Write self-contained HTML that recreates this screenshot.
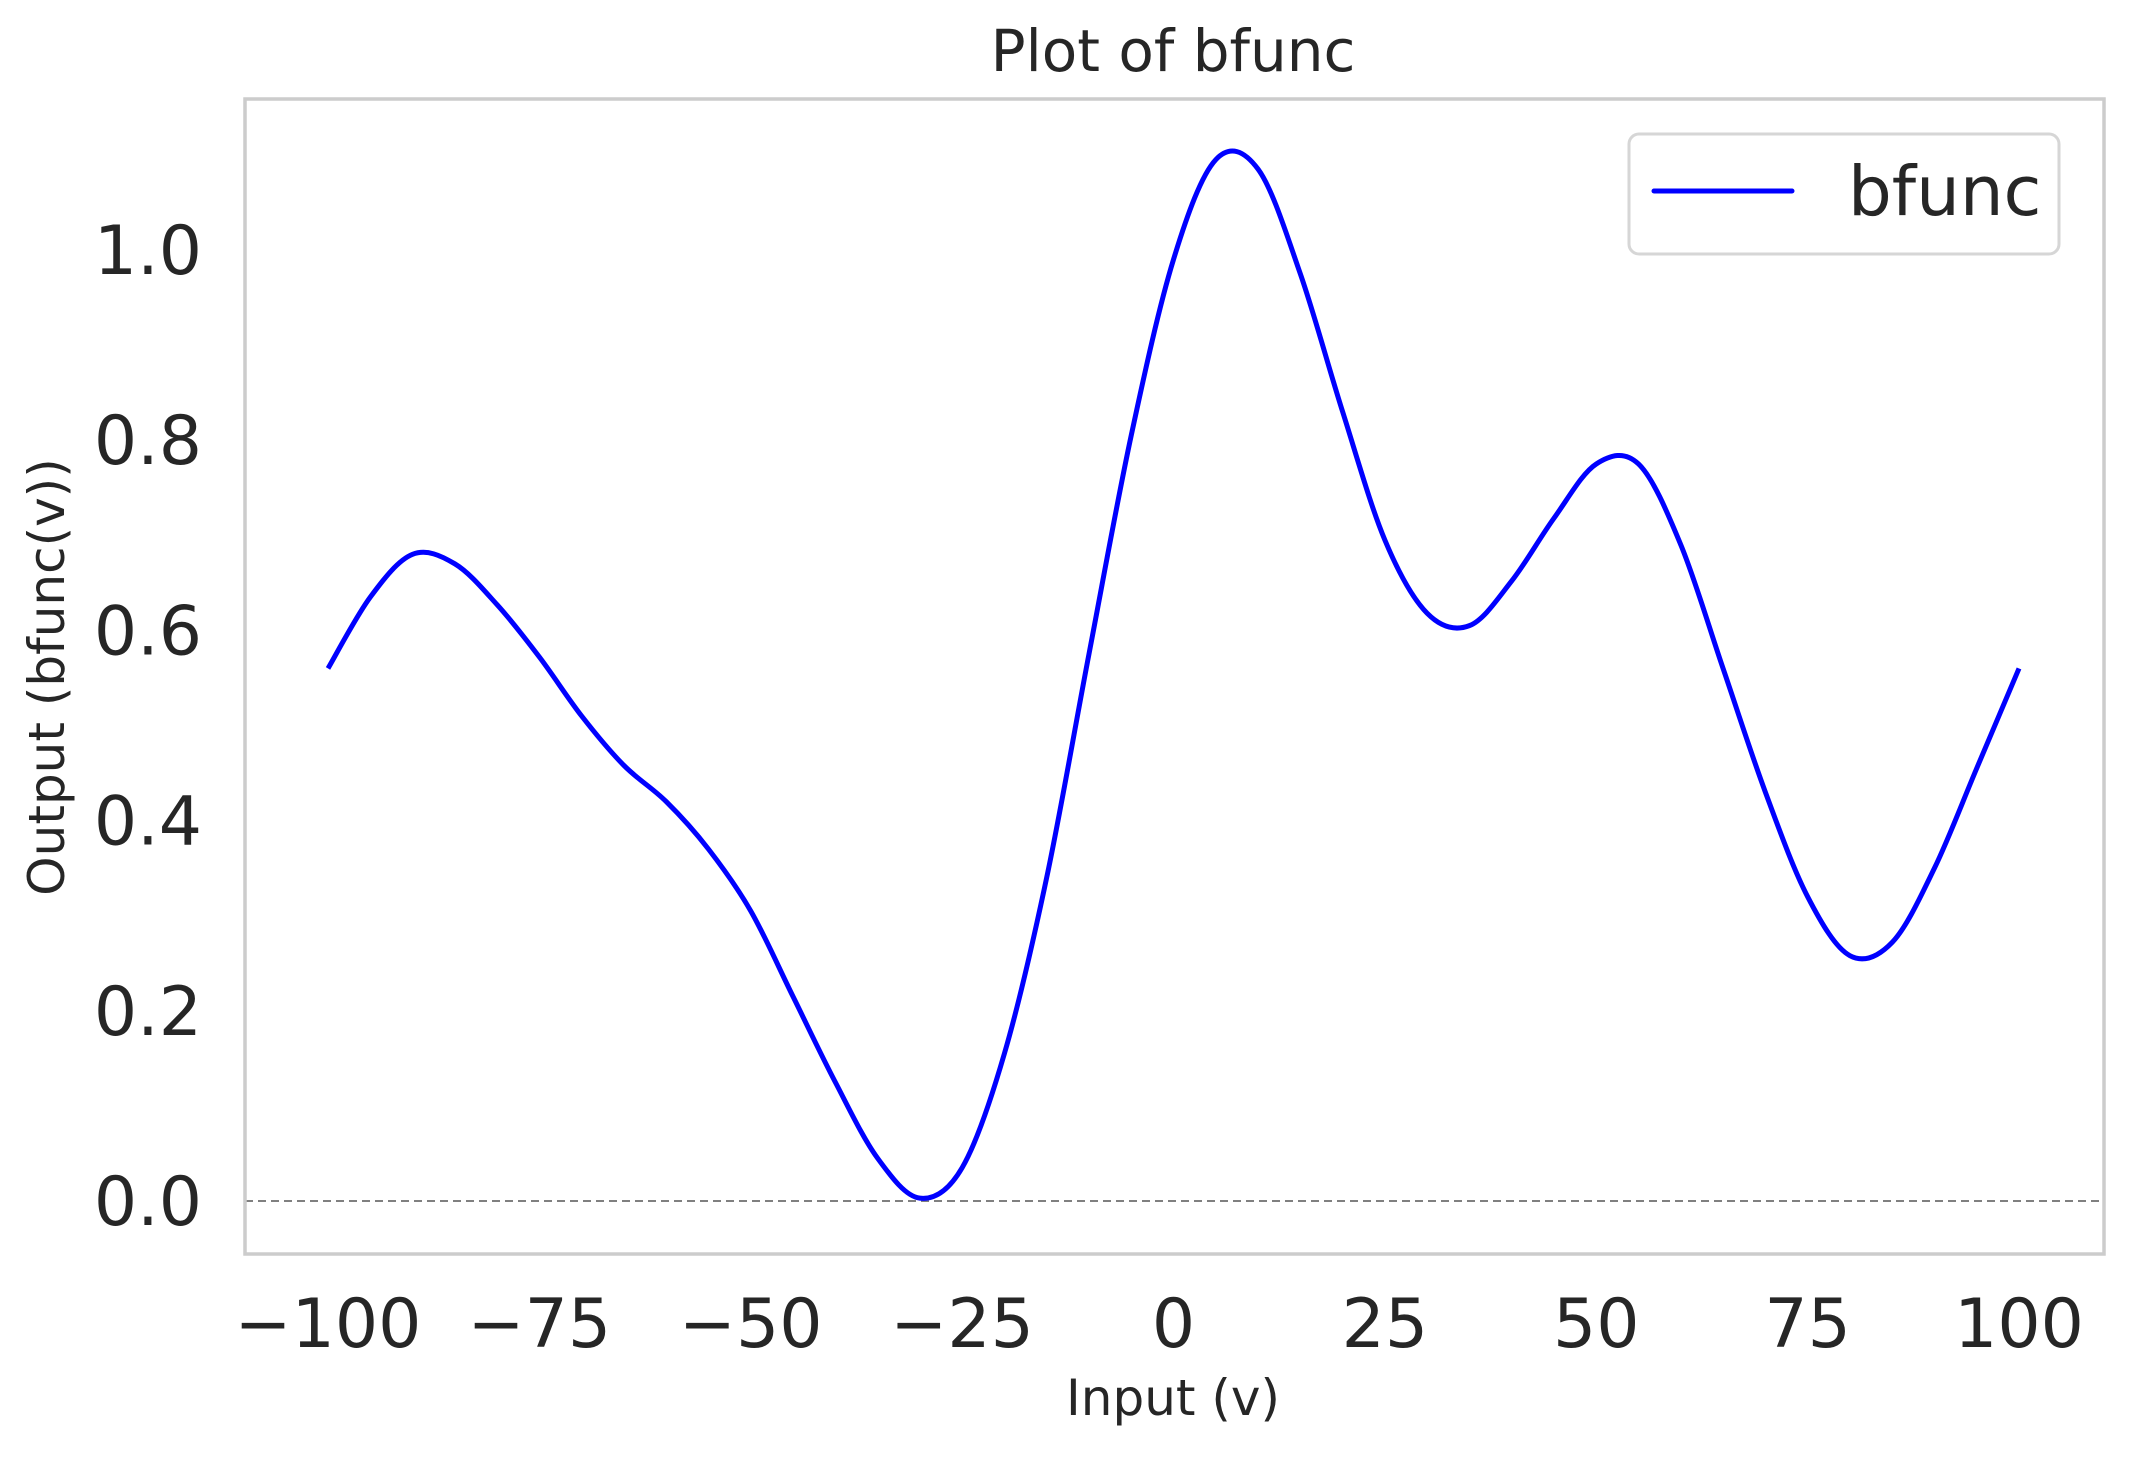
<!DOCTYPE html>
<html><head><meta charset="utf-8"><style>
html,body{margin:0;padding:0;background:#fff;}
svg text{font-family:"DejaVu Sans","Liberation Sans",sans-serif;fill:#262626;}
</style></head><body>
<svg id="chart" width="2133" height="1456" viewBox="0 0 2133 1456" xmlns="http://www.w3.org/2000/svg">
<rect x="0" y="0" width="2133" height="1456" fill="#fff"/>
<text x="1173" y="71" font-size="58" text-anchor="middle">Plot of bfunc</text>
<g id="ticks"></g>
<line id="zero-line" stroke="#808080" stroke-width="2" stroke-dasharray="8,5"/>
<path id="curve" fill="none" stroke="#0000ff" stroke-width="5" stroke-linejoin="round"/>
<rect x="245" y="99" width="1859" height="1155" fill="none" stroke="#cccccc" stroke-width="3.5"/>
<text x="1173" y="1415" font-size="50" text-anchor="middle">Input (v)</text>
<text transform="translate(64,677) rotate(-90)" font-size="50" text-anchor="middle">Output (bfunc(v))</text>
<g>
<rect x="1629" y="134" width="430" height="120" rx="10" fill="#fff" stroke="#d6d6d6" stroke-width="3"/>
<line x1="1654" y1="191" x2="1792" y2="191" stroke="#0000ff" stroke-width="5" stroke-linecap="round"/>
<text x="1848" y="215" font-size="69">bfunc</text>
</g>
</svg>
<script>
const xs=[-100,-95,-90,-85,-80,-75,-70,-65,-60,-55,-50,-45,-40,-35,-30,-25,-20,-15,-10,-5,0,5,10,15,20,25,30,35,40,45,50,55,60,65,70,75,80,85,90,95,100];
const ys=[0.56,0.635,0.68,0.67,0.627,0.572,0.51,0.458,0.42,0.37,0.305,0.215,0.125,0.045,0.003,0.035,0.155,0.34,0.575,0.805,0.99,1.095,1.085,0.975,0.83,0.695,0.618,0.605,0.652,0.718,0.775,0.775,0.69,0.56,0.43,0.32,0.258,0.272,0.35,0.455,0.56];
const xTicks=[-100,-75,-50,-25,0,25,50,75,100];
const xTickLabels=["\u2212100","\u221275","\u221250","\u221225","0","25","50","75","100"];
const yTicks=[0,0.2,0.4,0.6,0.8,1.0];
const yTickLabels=["0.0","0.2","0.4","0.6","0.8","1.0"];
function X(v){return 328+(v+100)*8.455;}
function Y(v){return 1201-v*951;}
const NS="http://www.w3.org/2000/svg";
const g=document.getElementById('ticks');
xTicks.forEach((t,i)=>{const e=document.createElementNS(NS,'text');
e.setAttribute('x',X(t));e.setAttribute('y',1347);e.setAttribute('font-size','68');e.setAttribute('text-anchor','middle');


e.textContent=xTickLabels[i];g.appendChild(e);});
yTicks.forEach((t,i)=>{const e=document.createElementNS(NS,'text');
e.setAttribute('x',202);e.setAttribute('y',Y(t)+24);e.setAttribute('font-size','68');e.setAttribute('text-anchor','end');


e.textContent=yTickLabels[i];g.appendChild(e);});
const zl=document.getElementById('zero-line');
zl.setAttribute('x1',245);zl.setAttribute('x2',2104);zl.setAttribute('y1',Y(0));zl.setAttribute('y2',Y(0));
const P=xs.map((x,i)=>[X(x),Y(ys[i])]);
let d='M'+P[0][0]+','+P[0][1];
for(let i=0;i<P.length-1;i++){const p0=P[Math.max(0,i-1)],p1=P[i],p2=P[i+1],p3=P[Math.min(P.length-1,i+2)];
d+=' C'+(p1[0]+(p2[0]-p0[0])/6)+','+(p1[1]+(p2[1]-p0[1])/6)+' '+(p2[0]-(p3[0]-p1[0])/6)+','+(p2[1]-(p3[1]-p1[1])/6)+' '+p2[0]+','+p2[1];}
document.getElementById('curve').setAttribute('d',d);
</script>
</body></html>
